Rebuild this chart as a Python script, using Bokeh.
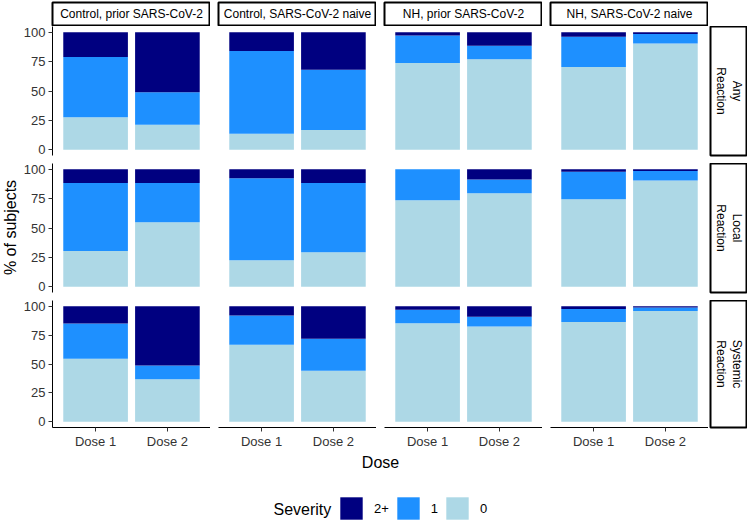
import math
from bokeh.plotting import figure
from bokeh.models import (ColumnDataSource, FactorRange, Range1d, FixedTicker,
                          Label, Legend, LegendItem, Spacer)
from bokeh.layouts import row, column
from bokeh.core.properties import value
from bokeh.embed import file_html
from bokeh.resources import INLINE

# ---------------- data ----------------
groups = ["Control, prior SARS-CoV-2", "Control, SARS-CoV-2 naive",
          "NH, prior SARS-CoV-2", "NH, SARS-CoV-2 naive"]
reactions = ["Any\nReaction", "Local\nReaction", "Systemic\nReaction"]
doses = ["Dose 1", "Dose 2"]
severity_labels = ["2+", "1", "0"]
y_ticks = [0, 25, 50, 75, 100]

# values ordered: group1 dose1, group1 dose2, group2 dose1, ... (percent of subjects)
any_sev0 = [27.6, 21.3, 13.6, 16.8, 73.9, 77.0, 70.4, 90.6]
any_sev1 = [51.4, 27.6, 70.5, 51.3, 23.5, 11.6, 25.9, 8.0]
any_sev2 = [21.0, 51.1, 15.9, 31.9, 2.6, 11.4, 3.7, 1.4]

local_sev0 = [30.3, 54.8, 22.6, 29.4, 73.7, 79.7, 74.5, 90.6]
local_sev1 = [58.0, 33.5, 69.9, 58.9, 26.3, 11.7, 23.5, 7.9]
local_sev2 = [11.7, 11.7, 7.5, 11.7, 0.0, 8.6, 2.0, 1.5]

sys_sev0 = [54.5, 36.7, 66.7, 44.1, 85.3, 82.5, 86.4, 96.0]
sys_sev1 = [30.5, 11.9, 25.4, 27.7, 11.6, 8.4, 11.3, 2.9]
sys_sev2 = [15.0, 51.4, 7.9, 28.2, 3.1, 9.1, 2.3, 1.1]

reaction_data = [(any_sev0, any_sev1, any_sev2),
                 (local_sev0, local_sev1, local_sev2),
                 (sys_sev0, sys_sev1, sys_sev2)]

# ---------------- style / layout ----------------
FONT = "Liberation Sans"
C0, C1, C2 = "lightblue", "dodgerblue", "navy"
FRAME_W, FRAME_H = 158, 129
TITLE_W = 20
LEFT_B, GAP = 32, 8
ROW_GAP, BOTTOM_AXIS = 8, 22
STRIP_GAP, STRIP_W = 2, 37
TOP_STRIP_H = 26
BOTTOM_H = 71
TICK_COLOR = "#333333"


def base_fig(**kw):
    p = figure(output_backend="svg", toolbar_location=None, tools="", **kw)
    p.grid.visible = False
    p.outline_line_color = None
    p.background_fill_color = "white"
    p.border_fill_color = "white"
    return p


def panel(gi, ri):
    left = gi == 0
    bottom = ri == 2
    s0, s1, s2 = reaction_data[ri]
    src = ColumnDataSource(dict(dose=doses,
                                s0=s0[2 * gi:2 * gi + 2],
                                s1=s1[2 * gi:2 * gi + 2],
                                s2=s2[2 * gi:2 * gi + 2]))
    bl = LEFT_B if left else GAP
    bb = BOTTOM_AXIS if bottom else ROW_GAP
    p = base_fig(x_range=FactorRange(factors=doses, range_padding=0.1),
                 y_range=Range1d(-5, 105),
                 width=bl + FRAME_W, height=FRAME_H + bb,
                 min_border_left=bl, min_border_right=0,
                 min_border_top=0, min_border_bottom=bb,
                 x_axis_location="below" if bottom else None,
                 y_axis_location="left" if left else None)
    p.vbar_stack(["s0", "s1", "s2"], x="dose", width=0.9, source=src,
                 fill_color=[C0, C1, C2], line_color=None)
    for ax in p.axis:
        ax.axis_line_color = "black"
        ax.axis_line_width = 1
        ax.major_tick_line_color = TICK_COLOR
        ax.major_tick_in = 0
        ax.major_tick_out = 4
        ax.minor_tick_line_color = None
        ax.major_label_text_font = FONT
        ax.major_label_text_font_size = "13px"
        ax.major_label_text_color = TICK_COLOR
        ax.major_label_standoff = 2
    if left:
        p.yaxis.ticker = FixedTicker(ticks=y_ticks)
        p.yaxis.major_label_standoff = 3
    return p


def top_strip(gi):
    bl = LEFT_B if gi == 0 else GAP
    p = base_fig(x_range=Range1d(0, 1), y_range=Range1d(0, 1),
                 width=bl + FRAME_W, height=TOP_STRIP_H,
                 min_border_left=bl, min_border_right=0,
                 min_border_top=2, min_border_bottom=1,
                 x_axis_location=None, y_axis_location=None)
    p.outline_line_color = "black"
    p.outline_line_width = 2
    p.text(x=[0.5], y=[0.5], text=[groups[gi]], text_align="center",
           text_baseline="middle", text_font=value(FONT),
           text_font_size="12px", text_color="black")
    return p


def right_strip(ri):
    bb = BOTTOM_AXIS if ri == 2 else ROW_GAP
    p = base_fig(x_range=Range1d(0, 1), y_range=Range1d(0, 1),
                 width=STRIP_GAP + STRIP_W, height=FRAME_H + bb,
                 min_border_left=STRIP_GAP, min_border_right=0,
                 min_border_top=0, min_border_bottom=bb,
                 x_axis_location=None, y_axis_location=None)
    p.outline_line_color = "black"
    p.outline_line_width = 2
    p.text(x=[0.5], y=[0.5], text=[reactions[ri]], text_align="center",
           text_baseline="middle", angle=-math.pi / 2, text_font=value(FONT),
           text_font_size="12px", text_color="black", text_line_height=1.15)
    return p


strip_row = row(*[top_strip(g) for g in range(4)],
                Spacer(width=STRIP_GAP + STRIP_W, height=TOP_STRIP_H))
panel_rows = [row(*[panel(g, r) for g in range(4)], right_strip(r)) for r in range(3)]

grid_h = TOP_STRIP_H + 2 * (FRAME_H + ROW_GAP) + FRAME_H + BOTTOM_AXIS
title_fig = base_fig(width=TITLE_W, height=grid_h, min_border_left=0, min_border_right=0,
                     min_border_top=0, min_border_bottom=0,
                     x_axis_location=None, y_axis_location=None)
title_fig.add_layout(Label(x=10, y=grid_h - 227, x_units="screen", y_units="screen",
                           text="% of subjects", angle=math.pi / 2,
                           text_align="center", text_baseline="middle",
                           text_font=FONT, text_font_size="16px", text_color="black"))

total_w = TITLE_W + (LEFT_B + FRAME_W) + 3 * (GAP + FRAME_W) + STRIP_GAP + STRIP_W
bottom_fig = base_fig(width=total_w, height=BOTTOM_H, min_border_left=0, min_border_right=0,
                      min_border_top=0, min_border_bottom=0,
                      x_range=Range1d(0, 1), y_range=Range1d(0, 1),
                      x_axis_location=None, y_axis_location=None)
bottom_fig.add_layout(Label(x=380, y=BOTTOM_H - 11, x_units="screen", y_units="screen",
                            text="Dose", text_align="center", text_baseline="middle",
                            text_font=FONT, text_font_size="16px", text_color="black"))
bottom_fig.add_layout(Label(x=273, y=13, x_units="screen", y_units="screen",
                            text="Severity", text_align="left", text_baseline="middle",
                            text_font=FONT, text_font_size="16px", text_color="black"))
items = []
for lab, col in zip(severity_labels, [C2, C1, C0]):
    # zero-height proxy bar, only used to carry the legend swatch
    r = bottom_fig.vbar(x=[0.5], top=[0], width=0.01, fill_color=col, line_color=None)
    items.append(LegendItem(label=lab, renderers=[r]))
legend = Legend(items=items, orientation="horizontal", location=(337, 0),
                glyph_width=28, glyph_height=28, label_standoff=9, spacing=5,
                padding=0, margin=0, border_line_color=None, background_fill_alpha=0,
                label_text_font=FONT, label_text_font_size="13px",
                label_text_color="black", label_width=0)
bottom_fig.add_layout(legend)

layout = column(row(title_fig, column(strip_row, *panel_rows)), bottom_fig)

open("out.html", "w").write(file_html(layout, INLINE))
